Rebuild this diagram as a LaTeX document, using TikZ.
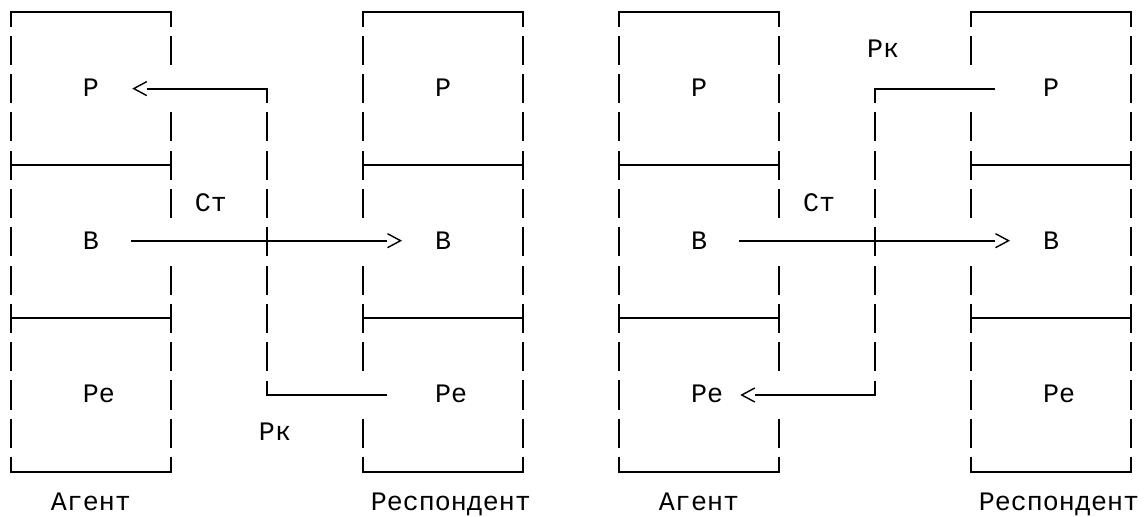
\documentclass[tikz,border=0pt]{standalone}
\usepackage{fontspec}
\setmonofont{Liberation Mono}
\usetikzlibrary{arrows.meta}

\begin{document}
\begin{tikzpicture}[x=16pt, y=-38.3pt,
    box/.style={line width=2pt},
    arr/.style={line width=2pt, -{. Straight Barb[length=13pt,width=14pt,line width=1.4pt]}}]
\useasboundingbox (-0.6875,-0.3133) rectangle (70.9375,13.185);

% box outlines
\foreach \x in {0,22,38,60} {
  \draw[box] (\x,0.38) -- (\x,0) -- (\x+10,0) -- (\x+10,0.38);
  \draw[box] (\x,4) -- (\x+10,4);
  \draw[box] (\x,8) -- (\x+10,8);
  \draw[box] (\x,11.62) -- (\x,12) -- (\x+10,12) -- (\x+10,11.62);
}
% one bar per text row
\foreach \x/\rows in {0/{1,2,3,4,5,6,7,8,9,10,11}, 10/{1,3,4,5,7,8,9,10,11},
    16/{3,4,5,6,7,8,9}, 22/{1,2,3,4,5,7,8,9,11}, 32/{1,2,3,4,5,6,7,8,9,10,11},
    38/{1,2,3,4,5,6,7,8,9,10,11}, 48/{1,2,3,4,5,7,8,9,11},
    54/{3,4,5,6,7,8,9}, 60/{1,3,4,5,7,8,9,10,11}, 70/{1,2,3,4,5,6,7,8,9,10,11}}
  \foreach \r in \rows
    \draw[box] (\x,\r-0.38) -- (\x,\r+0.38);

\begin{scope}[every node/.style={font=\ttfamily\fontsize{26.67pt}{32pt}\selectfont,
                                 inner sep=0pt, anchor=base}]
  \node (aP1) at (5,2.2) {Р};
  \node (aB1) at (5,6.2) {В};
  \node (aRe1) at (5.5,10.2) {Ре};
  \node (rP1) at (27,2.2) {Р};
  \node (rB1) at (27,6.2) {В};
  \node (rRe1) at (27.5,10.2) {Ре};
  \node (st1) at (12.5,5.2) {Ст};
  \node (rk1) at (16.5,11.2) {Рк};
  \node (agent1) at (5,13.02) {Агент};
  \node (resp1) at (27.5,13.02) {Респондент};

  \node (aP2) at (43,2.2) {Р};
  \node (aB2) at (43,6.2) {В};
  \node (aRe2) at (43.5,10.2) {Ре};
  \node (rP2) at (65,2.2) {Р};
  \node (rB2) at (65,6.2) {В};
  \node (rRe2) at (65.5,10.2) {Ре};
  \node (st2) at (50.5,5.2) {Ст};
  \node (rk2) at (54.5,1.2) {Рк};
  \node (agent2) at (43,13.02) {Агент};
  \node (resp2) at (65.5,13.02) {Респондент};
\end{scope}

\coordinate (k1t) at (16,2);
\coordinate (k1b) at (16,10);
\coordinate (k2t) at (54,2);
\coordinate (k2b) at (54,10);

\begin{scope}[line width=2pt]
    \draw[arr, shorten >=41.3pt] ([yshift=-14.5pt]k1t) -- (k1t) -- (k1t -| aP1);
    \path[arr] (aB1.center) edge[shorten <=40pt, shorten >=41pt] (rB1.center);
    \draw[shorten <=64pt] (k1b -| rRe1) -- (k1b) -- ([yshift=14.5pt]k1b);

    \draw[shorten <=56pt] (k2t -| rP2) -- (k2t) -- ([yshift=-14.5pt]k2t);
    \path[arr] (aB2.center) edge[shorten <=40pt, shorten >=41pt] (rB2.center);
    \draw[arr, shorten >=33.3pt] ([yshift=14.5pt]k2b) -- (k2b) -- (k2b -| aRe2);
\end{scope}

\end{tikzpicture}
\end{document}
